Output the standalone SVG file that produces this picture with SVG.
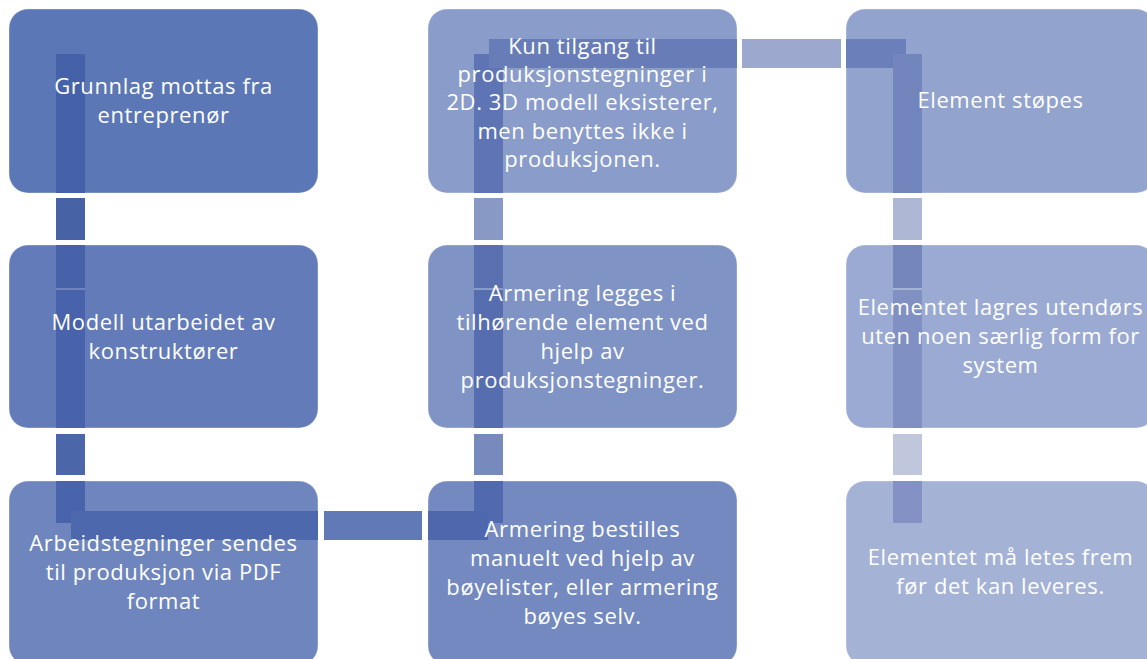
<svg xmlns="http://www.w3.org/2000/svg" width="1147" height="659" viewBox="0 0 1147 659">
  <style>
    .box { stroke: #ffffff; stroke-opacity: 0.35; stroke-width: 1; }
    .lbl { font-family: "Open Sans", "Liberation Sans", sans-serif; font-size: 22px; letter-spacing: 0.6px; fill: #ffffff; text-anchor: middle; }
    .seam { stroke-width: 1.5; }
  </style>
  <rect width="1147" height="659" fill="#ffffff"/>

  <!-- connector pieces between the boxes -->
  <g id="connectors">
    <rect x="56" y="198" width="29" height="42" fill="#4862A6"/>
    <rect x="56" y="434" width="29" height="41" fill="#4C66AA"/>
    <rect x="324" y="511" width="98" height="29" fill="#6279B8"/>
    <rect x="474" y="434" width="29" height="41" fill="#778ABE"/>
    <rect x="474" y="198" width="29" height="42" fill="#8899C6"/>
    <rect x="742" y="39" width="99" height="29" fill="#9CA8CD"/>
    <rect x="893" y="198" width="29" height="42" fill="#AEB7D4"/>
    <rect x="893" y="434" width="29" height="41" fill="#C0C6DC"/>
  </g>

  <g id="node1">
    <rect class="box" x="9" y="9" width="309" height="184" rx="19" fill="#5B77B5"/>
    <rect x="56" y="54" width="29" height="139" fill="#4562A9"/>
    <text class="lbl" x="163.5" y="94">Grunnlag mottas fra</text>
    <text class="lbl" x="163.5" y="123">entreprenør</text>
  </g>

  <g id="node2">
    <rect class="box" x="9" y="245" width="309" height="183" rx="19" fill="#637BB8"/>
    <rect x="56" y="245" width="29" height="43" fill="#4762A9"/>
    <rect x="56" y="290" width="29" height="138" fill="#4863AB"/>
    <line class="seam" x1="56" y1="289" x2="85" y2="289" stroke="#7387BF"/>
    <text class="lbl" x="163.5" y="330">Modell utarbeidet av</text>
    <text class="lbl" x="163.5" y="359">konstruktører</text>
  </g>

  <g id="node3">
    <rect class="box" x="9" y="481" width="309" height="184" rx="19" fill="#6E86BD"/>
    <rect x="56" y="481" width="29" height="42" fill="#4A64AB"/>
    <rect x="71" y="511" width="247" height="29" fill="#4E68AD"/>
    <rect x="56" y="481" width="29" height="30" fill="#4A64AB"/>
    <text class="lbl" x="163.5" y="551">Arbeidstegninger sendes</text>
    <text class="lbl" x="163.5" y="580">til produksjon via PDF</text>
    <text class="lbl" x="163.5" y="609">format</text>
  </g>

  <g id="node4">
    <rect class="box" x="428" y="481" width="309" height="184" rx="19" fill="#7389BF"/>
    <rect x="474" y="481" width="29" height="42" fill="#5169AE"/>
    <rect x="428" y="511" width="60" height="29" fill="#4F68AD"/>
    <text class="lbl" x="582.5" y="537">Armering bestilles</text>
    <text class="lbl" x="582.5" y="566">manuelt ved hjelp av</text>
    <text class="lbl" x="582.5" y="595">bøyelister, eller armering</text>
    <text class="lbl" x="582.5" y="624">bøyes selv.</text>
  </g>

  <g id="node5">
    <rect class="box" x="428" y="245" width="309" height="183" rx="19" fill="#7F93C5"/>
    <rect x="474" y="245" width="29" height="43" fill="#5B70B1"/>
    <rect x="474" y="290" width="29" height="138" fill="#566DB0"/>
    <line class="seam" x1="474" y1="289" x2="503" y2="289" stroke="#8D9ECB"/>
    <text class="lbl" x="582.5" y="301">Armering legges i</text>
    <text class="lbl" x="582.5" y="330">tilhørende element ved</text>
    <text class="lbl" x="582.5" y="359">hjelp av</text>
    <text class="lbl" x="582.5" y="388">produksjonstegninger.</text>
  </g>

  <g id="node6">
    <rect class="box" x="428" y="9" width="309" height="184" rx="19" fill="#8A9CC9"/>
    <rect x="474" y="54" width="29" height="139" fill="#5E74B4"/>
    <rect x="489" y="39" width="248" height="29" fill="#687DB8"/>
    <text class="lbl" x="582.5" y="54">Kun tilgang til</text>
    <text class="lbl" x="582.5" y="82">produksjonstegninger i</text>
    <text class="lbl" x="582.5" y="110">2D. 3D modell eksisterer,</text>
    <text class="lbl" x="582.5" y="139">men benyttes ikke i</text>
    <text class="lbl" x="582.5" y="167">produksjonen.</text>
  </g>

  <g id="node7">
    <rect class="box" x="846" y="9" width="309" height="184" rx="19" fill="#92A3CD"/>
    <rect x="846" y="39" width="60" height="29" fill="#6B80BA"/>
    <rect x="893" y="54" width="29" height="139" fill="#7285BD"/>
    <text class="lbl" x="1000.5" y="108">Element støpes</text>
  </g>

  <g id="node8">
    <rect class="box" x="846" y="245" width="309" height="183" rx="19" fill="#9AAAD2"/>
    <rect x="893" y="245" width="29" height="43" fill="#7586BD"/>
    <rect x="893" y="290" width="29" height="138" fill="#8090C3"/>
    <line class="seam" x1="893" y1="289" x2="922" y2="289" stroke="#A9B6D8"/>
    <text class="lbl" x="1000.5" y="315">Elementet lagres utendørs</text>
    <text class="lbl" x="1000.5" y="344">uten noen særlig form for</text>
    <text class="lbl" x="1000.5" y="373">system</text>
  </g>

  <g id="node9">
    <rect class="box" x="846" y="481" width="309" height="184" rx="19" fill="#A4B2D6"/>
    <rect x="893" y="481" width="29" height="42" fill="#8491C4"/>
    <text class="lbl" x="1000.5" y="565">Elementet må letes frem</text>
    <text class="lbl" x="1000.5" y="594">før det kan leveres.</text>
  </g>
</svg>
